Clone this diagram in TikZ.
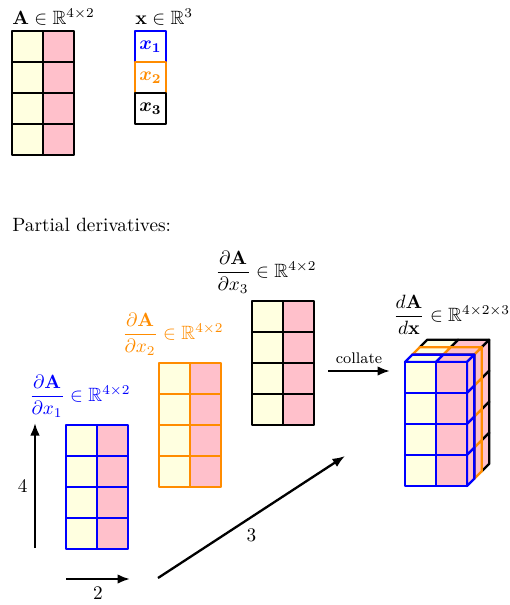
\documentclass[tikz,border=0pt]{standalone}
\usepackage{amsmath,amssymb,bm}
\usetikzlibrary{arrows.meta}
\definecolor{cellyellow}{RGB}{255,255,224}
\definecolor{cellpink}{RGB}{255,192,203}
\definecolor{darkorange}{RGB}{255,140,0}
\begin{document}
\begin{tikzpicture}[x=0.52pt, y=-0.52pt,
    cell/.style={very thick, line join=round},
    lbl/.style={inner sep=0pt},
    arr/.style={very thick, -{Latex[length=6.5pt,width=5pt]}}]
\useasboundingbox (0,0) rectangle (510,605);

% Matrix A
\foreach \c/\fc in {0/cellyellow,1/cellpink}
  \foreach \r in {0,...,3}
    \filldraw[cell, fill=\fc] ({12+31*\c},{31+31*\r}) rectangle ++(31,31);
\node[lbl, anchor=base west] (labelA) at (12,24) {$\mathbf{A}\in\mathbb{R}^{4\times 2}$};

% Vector x
\node[lbl, anchor=base west] (labelx) at (135,24) {$\mathbf{x}\in\mathbb{R}^{3}$};
\foreach \i/\col in {1/blue,2/darkorange,3/black} {
  \draw[cell, draw=\col] (135,{31*\i}) rectangle ++(31,31);
  \node[text=\col] (x\i) at (150.5,{31*\i+15.5}) {$\bm{x_{\i}}$};
}

\node[lbl, anchor=base west] (title) at (12,231) {Partial derivatives:};

% Partial derivatives
\foreach \i/\mx/\my/\col in {1/66/425/blue, 2/159/363/darkorange, 3/252/301/black} {
  \foreach \c/\fc in {0/cellyellow,1/cellpink}
    \foreach \r in {0,...,3}
      \filldraw[cell, draw=\col, fill=\fc] ({\mx+31*\c},{\my+31*\r}) rectangle ++(31,31);
  \node[lbl, text=\col, anchor=south west] (dA\i) at ({\mx-37},{\my-7})
    {$\dfrac{\partial\mathbf{A}}{\partial x_{\i}}\in\mathbb{R}^{4\times 2}$};
}

% Collated tensor, back layer first
\foreach \k/\col in {2/black, 1/darkorange, 0/blue} {
  \pgfmathsetmacro\tx{405+7.4*\k}
  \pgfmathsetmacro\ty{362-7.4*\k}
  \foreach \c/\fc in {0/cellyellow,1/cellpink}
    \filldraw[cell, draw=\col, fill=\fc] ({\tx+31*\c},\ty) -- ++(7.4,-7.4) -- ++(31,0) -- ++(-7.4,7.4) -- cycle;
  \foreach \r in {0,...,3}
    \filldraw[cell, draw=\col, fill=cellpink] ({\tx+62},{\ty+31*\r}) -- ++(7.4,-7.4) -- ++(0,31) -- ++(-7.4,7.4) -- cycle;
  \foreach \c/\fc in {0/cellyellow,1/cellpink}
    \foreach \r in {0,...,3}
      \filldraw[cell, draw=\col, fill=\fc] ({\tx+31*\c},{\ty+31*\r}) rectangle ++(31,31);
}
\node[lbl, anchor=south west] (dAdx) at (393,335)
  {$\dfrac{d\mathbf{A}}{d\mathbf{x}}\in\mathbb{R}^{4\times 2\times 3}$};

% Arrows
\coordinate (c0) at (328,371);
\coordinate (c1) at (390,371);
\draw[arr] (c0) -- node[above, font=\footnotesize] (collate) {collate} (c1);

\coordinate (v0) at (35,548);
\coordinate (v1) at (35,423);
\draw[arr] (v0) -- node[left] (rows) {4} (v1);

\coordinate (h0) at (66,579);
\coordinate (h1) at (130,579);
\draw[arr] (h0) -- node[below] (cols) {2} (h1);

\coordinate (d0) at (158,578);
\coordinate (d1) at (345,456);
\draw[arr] (d0) -- node[below=2pt] (depth) {3} (d1);
\end{tikzpicture}
\end{document}
